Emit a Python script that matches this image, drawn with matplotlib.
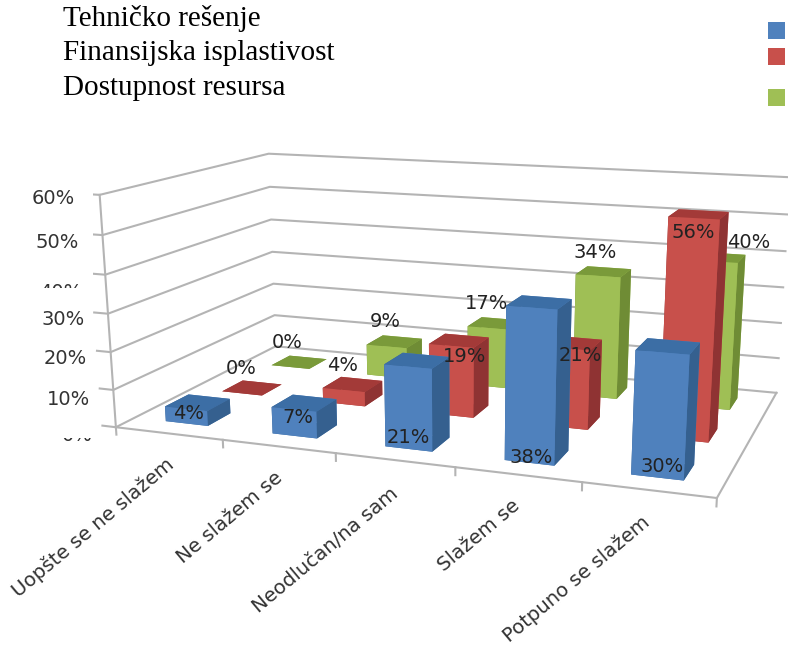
import numpy as np
import matplotlib
matplotlib.use('Agg')
import matplotlib.pyplot as plt
from matplotlib.patches import Rectangle
from mpl_toolkits.mplot3d import proj3d

categories = ['Uopšte se ne slažem', 'Ne slažem se', 'Neodlučan/na sam', 'Slažem se', 'Potpuno se slažem']
series_names = ['Tehničko rešenje', 'Finansijska isplastivost', 'Dostupnost resursa']
tehnicko = [4, 7, 21, 38, 30]
finansijska = [0, 4, 19, 21, 56]
dostupnost = [0, 9, 17, 34, 40]
yticks = [0, 10, 20, 30, 40, 50, 60]
values = [tehnicko, finansijska, dostupnost]

front = ['#4f81bd', '#c8504b', '#9fbf55']
top = ['#3c6ea5', '#a33a38', '#7a9a3a']
side = ['#35608f', '#8f3333', '#6f8c35']

# where excel put the data labels, relative to the top of each bar (dx in slots, dz in %)
label_dx = [[0.02, 0.03, 0.0, 0.01, 0.03],
            [0.0, 0.0, 0.12, 0.12, 0.0],
            [-0.02, -0.01, -0.02, -0.03, 0.28]]
label_dz = [[-1.1, -1.9, -18.1, -36.7, -27.3],
            [7.3, 7.0, -2.6, -1.4, -3.4],
            [7.6, 7.5, 7.1, 6.4, 5.4]]
ytick_dz = [-3.1, -3.3, -2.3, -2.0, -5.0, -2.3, -1.3]
category_dz = [-5.6, -5.8, -6.3, -5.5, -5.6]

fig = plt.figure(figsize=(7.88, 6.45), dpi=100)
ax = fig.add_axes([0.1178, 0.0411, 0.9051, 0.9616], projection='3d', computed_zorder=False)
ax.apply_aspect = lambda position=None: None  # keep the stretched axes box
ax.set_xlim(0, 5)
ax.set_ylim(0, 3)
ax.set_zlim(0, 60)
ax.view_init(elev=14.2872, azim=-70.0179, roll=0.0087)
ax.set_proj_type('persp', focal_length=0.3841)
ax.set_box_aspect((1, 0.5836, 0.4483))
ax.set_axis_off()
M = ax.get_proj()


def label3d(x, y, z, s, **kw):
    X, Y, _ = proj3d.proj_transform(np.array([x]), np.array([y]), np.array([z]), M)
    ax.text2D(float(X[0]), float(Y[0]), s, transform=ax.transData, **kw)


# walls and floor
g = dict(color='#b4b4b4', lw=1.5, zorder=1)
for v in yticks:
    ax.plot([-0.13, 0, 0, 5], [0, 0, 3, 3], [v, v, v, v], **g)
ax.plot([0, 0], [0, 0], [0, 60], **g)
ax.plot([0, 5, 5], [0, 0, 3], [0, 0, 0], **g)
for i in range(6):
    ax.plot([i, i], [0, 0], [0, -2], **g)

# bars, back row first
for j in [2, 1, 0]:
    for i in range(5):
        h = values[j][i]
        ax.bar3d(i + 0.3, j + 0.3, 0, 0.4, 0.4, h,
                 color=[top[j], top[j], front[j], front[j], side[j], side[j]],
                 shade=False, zorder=10 + (2 - j) * 10 + i, linewidth=0)
        label3d(i + 0.5 + label_dx[j][i], j + 0.3, h + label_dz[j][i], '%d%%' % h,
                fontsize=14, ha='center', va='center', zorder=60, color='#222222')

for k, v in enumerate(yticks):
    label3d(-0.23, 0, v + ytick_dz[k], '%d%%' % v, fontsize=14, ha='right', va='center',
            zorder=2, color='#333333')
for i, name in enumerate(categories):
    label3d(i + 0.45, 0, category_dz[i], name, fontsize=14.2, rotation=40, rotation_mode='anchor',
            ha='right', va='top', zorder=2, color='#333333')

# the 40% and 0% labels are cut in the original
fig.add_artist(Rectangle((35 / 788, 1 - 302 / 645), 50 / 788, 14 / 645, fc='white', ec='none', zorder=5))
fig.add_artist(Rectangle((55 / 788, 1 - 438 / 645), 40 / 788, 18 / 645, fc='white', ec='none', zorder=5))

# pasted legend
legend_y = [26, 60, 95]
square_y = [30.5, 56.5, 97.5]
for k, name in enumerate(series_names):
    fig.text(63 / 788, 1 - legend_y[k] / 645, name, family='Liberation Serif', fontsize=21, va='baseline')
    fig.add_artist(Rectangle((768 / 788, 1 - (square_y[k] + 8.5) / 645), 17 / 788, 17 / 645,
                             fc=front[k], ec='none'))

fig.savefig('out.png', dpi=100)
